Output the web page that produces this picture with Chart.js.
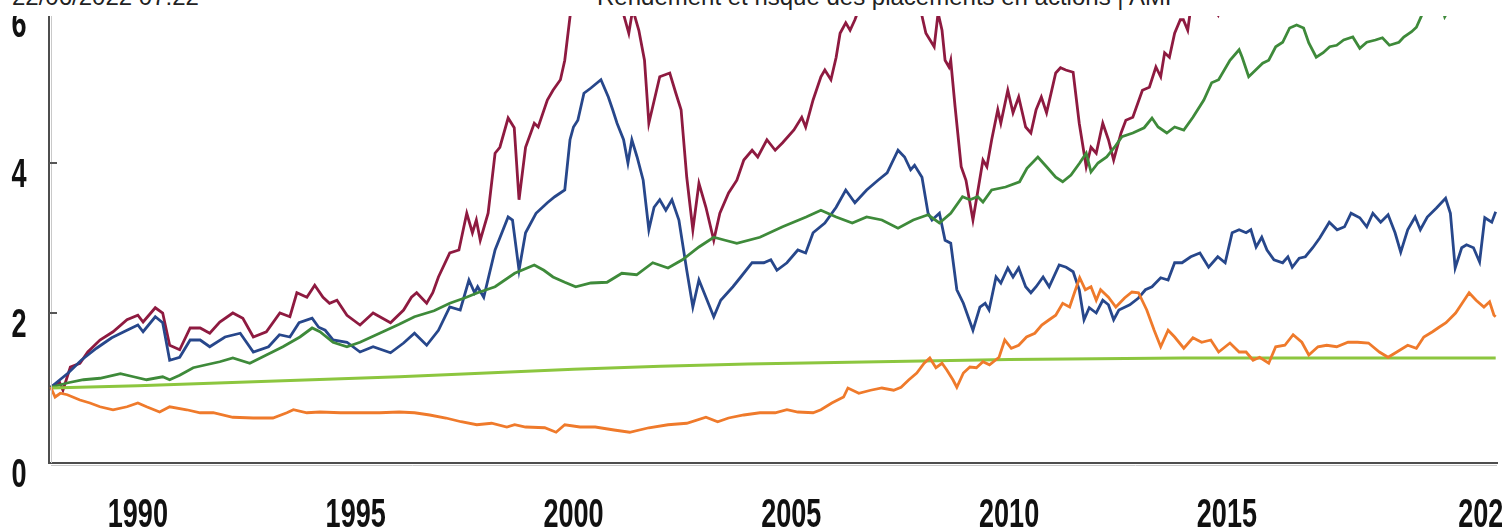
<!DOCTYPE html>
<html lang="fr">
<head>
<meta charset="utf-8">
<title>Rendement et risque des placements en actions | AMF</title>
<script src="https://cdn.jsdelivr.net/npm/chart.js@4.4.1/dist/chart.umd.min.js"></script>
<style>
  html, body { margin: 0; padding: 0; background: #fff; }
  body { width: 1502px; height: 529px; overflow: hidden; position: relative; }
  .header { position: absolute; top: -15px; font: 24px "Liberation Sans", Arial, sans-serif; line-height: 24px; color: #222; white-space: nowrap; }
  #date { left: 12px; }
  #titre { left: 597px; }
  #holder { position: absolute; left: 0; top: 16px; width: 1502px; height: 513px; }
</style>
</head>
<body>
<div class="header" id="date">22/06/2022 07:22</div>
<div class="header" id="titre">Rendement et risque des placements en actions | AMF</div>
<div id="holder"><canvas id="chart" width="1502" height="513"></canvas></div>
<script>
// [année, valeur] (base 1 en 1988)
const actionsDividendes = [
  [1988.00, 1.01], [1988.20, 1.08], [1988.28, 0.97], [1988.45, 1.28], [1988.67, 1.33], [1988.85, 1.48],
  [1989.13, 1.64], [1989.43, 1.75], [1989.75, 1.91], [1990.00, 1.97], [1990.12, 1.88], [1990.40, 2.07],
  [1990.57, 2.00], [1990.73, 1.57], [1990.96, 1.51], [1991.20, 1.80], [1991.43, 1.80], [1991.65, 1.73],
  [1991.88, 1.88], [1992.18, 2.00], [1992.41, 1.93], [1992.65, 1.68], [1992.95, 1.75], [1993.26, 2.00],
  [1993.49, 1.95], [1993.65, 2.27], [1993.88, 2.21], [1994.06, 2.37], [1994.25, 2.21], [1994.40, 2.13],
  [1994.57, 2.17], [1994.80, 1.97], [1995.10, 1.84], [1995.40, 2.00], [1995.80, 1.87], [1996.10, 2.04],
  [1996.28, 2.21], [1996.40, 2.27], [1996.63, 2.13], [1996.77, 2.27], [1996.90, 2.48], [1997.16, 2.80],
  [1997.37, 2.84], [1997.55, 3.33], [1997.68, 3.07], [1997.77, 3.24], [1997.86, 2.97], [1998.04, 3.33],
  [1998.20, 4.13], [1998.31, 4.21], [1998.50, 4.60], [1998.64, 4.47], [1998.75, 3.51], [1998.90, 4.21],
  [1999.10, 4.53], [1999.19, 4.48], [1999.40, 4.84], [1999.53, 4.97], [1999.70, 5.11], [1999.80, 5.37],
  [1999.92, 5.95], [2000.10, 6.60], [2000.35, 7.10], [2000.60, 7.30], [2000.85, 6.90], [2001.05, 6.30],
  [2001.16, 5.96], [2001.27, 5.73], [2001.36, 6.05], [2001.50, 5.77], [2001.63, 5.37], [2001.73, 4.53],
  [2001.98, 5.15], [2002.21, 5.20], [2002.35, 4.93], [2002.47, 4.71], [2002.60, 3.81], [2002.74, 3.11],
  [2002.88, 3.73], [2003.04, 3.41], [2003.22, 2.97], [2003.36, 3.33], [2003.56, 3.60], [2003.75, 3.77],
  [2003.91, 4.04], [2004.10, 4.17], [2004.23, 4.08], [2004.44, 4.31], [2004.63, 4.17], [2004.80, 4.27],
  [2005.06, 4.44], [2005.24, 4.61], [2005.33, 4.48], [2005.50, 4.84], [2005.68, 5.15], [2005.77, 5.24],
  [2005.91, 5.11], [2006.03, 5.41], [2006.12, 5.73], [2006.25, 5.87], [2006.35, 5.77], [2006.46, 5.91],
  [2006.55, 6.05], [2006.80, 6.40], [2007.10, 6.80], [2007.45, 7.00], [2007.75, 6.50], [2008.00, 5.96],
  [2008.09, 5.73], [2008.28, 5.55], [2008.37, 6.00], [2008.46, 5.77], [2008.53, 5.37], [2008.62, 5.28],
  [2008.66, 5.37], [2008.76, 4.75], [2008.90, 3.95], [2009.01, 3.77], [2009.17, 3.24], [2009.28, 3.62],
  [2009.40, 4.04], [2009.49, 3.95], [2009.60, 4.31], [2009.74, 4.71], [2009.81, 4.53], [2009.97, 4.97],
  [2010.09, 4.67], [2010.22, 4.88], [2010.38, 4.48], [2010.50, 4.40], [2010.62, 4.71], [2010.74, 4.88],
  [2010.86, 4.67], [2011.07, 5.20], [2011.18, 5.27], [2011.30, 5.24], [2011.47, 5.21], [2011.61, 4.53],
  [2011.77, 3.95], [2011.88, 4.21], [2012.00, 4.13], [2012.15, 4.53], [2012.28, 4.31], [2012.40, 4.04],
  [2012.57, 4.40], [2012.68, 4.57], [2012.84, 4.61], [2013.06, 4.97], [2013.22, 5.01], [2013.37, 5.28],
  [2013.48, 5.15], [2013.57, 5.47], [2013.68, 5.41], [2013.80, 5.73], [2013.93, 5.91], [2014.00, 5.91],
  [2014.10, 5.77], [2014.15, 5.98], [2014.50, 6.20], [2014.80, 5.97], [2015.20, 6.60], [2015.60, 6.90],
  [2016.10, 6.30], [2016.60, 6.90], [2017.20, 7.60], [2017.80, 8.00], [2018.30, 8.20], [2018.90, 7.60],
  [2019.50, 8.80], [2020.00, 9.30], [2020.25, 6.40], [2020.60, 8.40], [2021.17, 9.50]
];

const actions = [
  [1988.00, 1.01], [1988.40, 1.20], [1988.70, 1.37], [1989.05, 1.53], [1989.40, 1.67], [1989.75, 1.77],
  [1990.00, 1.84], [1990.12, 1.75], [1990.40, 1.95], [1990.57, 1.87], [1990.73, 1.37], [1990.96, 1.41],
  [1991.20, 1.64], [1991.43, 1.64], [1991.65, 1.55], [1992.00, 1.68], [1992.35, 1.73], [1992.65, 1.48],
  [1993.00, 1.55], [1993.25, 1.71], [1993.49, 1.68], [1993.70, 1.87], [1994.00, 1.93], [1994.15, 1.81],
  [1994.30, 1.77], [1994.48, 1.64], [1994.80, 1.61], [1995.10, 1.48], [1995.40, 1.55], [1995.80, 1.47],
  [1996.10, 1.60], [1996.35, 1.73], [1996.63, 1.57], [1996.90, 1.77], [1997.16, 2.08], [1997.40, 2.04],
  [1997.60, 2.44], [1997.73, 2.27], [1997.80, 2.35], [1997.94, 2.21], [1998.20, 2.84], [1998.50, 3.28],
  [1998.60, 3.24], [1998.75, 2.57], [1998.90, 3.07], [1999.14, 3.33], [1999.40, 3.47], [1999.57, 3.55],
  [1999.80, 3.64], [1999.92, 4.31], [2000.00, 4.48], [2000.10, 4.57], [2000.24, 4.93], [2000.40, 5.00],
  [2000.63, 5.11], [2000.80, 4.88], [2000.90, 4.71], [2001.00, 4.53], [2001.15, 4.31], [2001.25, 4.00],
  [2001.34, 4.31], [2001.46, 4.08], [2001.60, 3.77], [2001.73, 3.11], [2001.85, 3.41], [2001.98, 3.51],
  [2002.12, 3.37], [2002.26, 3.51], [2002.42, 3.24], [2002.60, 2.57], [2002.74, 2.08], [2002.88, 2.44],
  [2003.04, 2.21], [2003.22, 1.95], [2003.38, 2.17], [2003.66, 2.35], [2003.84, 2.48], [2004.10, 2.67],
  [2004.37, 2.67], [2004.53, 2.71], [2004.67, 2.57], [2004.90, 2.67], [2005.15, 2.84], [2005.33, 2.80],
  [2005.50, 3.07], [2005.77, 3.20], [2006.03, 3.41], [2006.25, 3.64], [2006.46, 3.47], [2006.73, 3.64],
  [2006.99, 3.77], [2007.20, 3.87], [2007.45, 4.17], [2007.60, 4.08], [2007.74, 3.91], [2007.83, 3.97],
  [2008.00, 3.81], [2008.14, 3.33], [2008.23, 3.24], [2008.40, 3.33], [2008.53, 2.97], [2008.66, 2.93],
  [2008.80, 2.31], [2008.95, 2.13], [2009.17, 1.77], [2009.33, 2.08], [2009.45, 2.13], [2009.54, 2.04],
  [2009.70, 2.48], [2009.81, 2.40], [2009.97, 2.60], [2010.09, 2.48], [2010.22, 2.60], [2010.38, 2.35],
  [2010.50, 2.27], [2010.62, 2.35], [2010.78, 2.48], [2010.92, 2.35], [2011.15, 2.64], [2011.31, 2.61],
  [2011.47, 2.55], [2011.61, 2.31], [2011.72, 1.91], [2011.84, 2.07], [2012.00, 2.00], [2012.15, 2.17],
  [2012.28, 2.11], [2012.40, 1.91], [2012.52, 2.04], [2012.77, 2.11], [2012.97, 2.20], [2013.13, 2.31],
  [2013.28, 2.35], [2013.48, 2.47], [2013.65, 2.44], [2013.80, 2.67], [2013.97, 2.67], [2014.17, 2.75],
  [2014.38, 2.80], [2014.58, 2.61], [2014.79, 2.75], [2014.96, 2.67], [2015.12, 3.07], [2015.28, 3.11],
  [2015.44, 3.07], [2015.55, 3.11], [2015.67, 2.88], [2015.80, 3.01], [2015.92, 2.84], [2016.08, 2.71],
  [2016.28, 2.67], [2016.40, 2.75], [2016.50, 2.61], [2016.66, 2.73], [2016.80, 2.75], [2016.97, 2.87],
  [2017.13, 3.00], [2017.35, 3.21], [2017.53, 3.11], [2017.70, 3.15], [2017.85, 3.33], [2018.05, 3.27],
  [2018.21, 3.15], [2018.35, 3.33], [2018.53, 3.21], [2018.70, 3.31], [2018.86, 3.07], [2018.99, 2.81],
  [2019.15, 3.11], [2019.32, 3.28], [2019.44, 3.11], [2019.60, 3.28], [2019.81, 3.40], [2020.02, 3.53],
  [2020.13, 3.33], [2020.24, 2.60], [2020.39, 2.87], [2020.50, 2.91], [2020.66, 2.87], [2020.80, 2.68],
  [2020.92, 3.27], [2021.08, 3.21], [2021.17, 3.35]
];

const obligations = [
  [1988.00, 1.01], [1988.40, 1.07], [1988.75, 1.11], [1989.13, 1.13], [1989.60, 1.19], [1989.90, 1.15],
  [1990.20, 1.11], [1990.57, 1.15], [1990.73, 1.11], [1990.96, 1.17], [1991.27, 1.27], [1991.57, 1.31],
  [1991.88, 1.35], [1992.18, 1.40], [1992.57, 1.33], [1992.95, 1.44], [1993.33, 1.55], [1993.72, 1.68],
  [1994.00, 1.80], [1994.18, 1.75], [1994.48, 1.61], [1994.80, 1.55], [1995.10, 1.61], [1995.55, 1.73],
  [1996.00, 1.85], [1996.35, 1.95], [1996.80, 2.03], [1997.16, 2.13], [1997.50, 2.20], [1997.80, 2.27],
  [1998.20, 2.35], [1998.65, 2.53], [1999.10, 2.64], [1999.32, 2.57], [1999.53, 2.48], [1999.80, 2.41],
  [2000.05, 2.35], [2000.40, 2.40], [2000.77, 2.41], [2001.11, 2.53], [2001.45, 2.51], [2001.82, 2.67],
  [2002.17, 2.60], [2002.50, 2.71], [2002.88, 2.88], [2003.22, 3.01], [2003.48, 2.97], [2003.75, 2.93],
  [2004.28, 3.01], [2004.80, 3.15], [2005.34, 3.28], [2005.68, 3.37], [2006.03, 3.28], [2006.40, 3.20],
  [2006.73, 3.28], [2007.08, 3.24], [2007.45, 3.13], [2007.80, 3.24], [2008.14, 3.31], [2008.40, 3.20],
  [2008.66, 3.33], [2008.93, 3.55], [2009.10, 3.51], [2009.28, 3.55], [2009.40, 3.48], [2009.60, 3.64],
  [2009.92, 3.68], [2010.24, 3.75], [2010.41, 3.93], [2010.66, 4.08], [2010.86, 3.95], [2011.07, 3.81],
  [2011.23, 3.75], [2011.42, 3.84], [2011.62, 4.00], [2011.77, 4.13], [2011.88, 3.88], [2012.04, 4.00],
  [2012.24, 4.08], [2012.42, 4.21], [2012.59, 4.35], [2012.84, 4.40], [2013.10, 4.47], [2013.28, 4.60],
  [2013.42, 4.48], [2013.62, 4.40], [2013.80, 4.48], [2014.01, 4.44], [2014.22, 4.61], [2014.47, 4.84],
  [2014.65, 5.07], [2014.81, 5.11], [2015.07, 5.37], [2015.28, 5.51], [2015.35, 5.41], [2015.50, 5.15],
  [2015.66, 5.24], [2015.82, 5.33], [2015.96, 5.37], [2016.12, 5.55], [2016.28, 5.61], [2016.44, 5.80],
  [2016.60, 5.84], [2016.76, 5.80], [2016.88, 5.60], [2017.05, 5.41], [2017.21, 5.47], [2017.36, 5.55],
  [2017.52, 5.57], [2017.68, 5.64], [2017.89, 5.68], [2018.05, 5.53], [2018.21, 5.61], [2018.41, 5.64],
  [2018.57, 5.67], [2018.73, 5.57], [2018.95, 5.61], [2019.06, 5.68], [2019.24, 5.75], [2019.35, 5.81],
  [2019.48, 5.98], [2019.70, 6.10], [2019.90, 6.15], [2020.00, 5.95], [2020.15, 6.10], [2020.50, 6.25],
  [2020.90, 6.30], [2021.17, 6.25]
];

const monetaire = [
  [1988.00, 1.00], [1990.00, 1.03], [1992.00, 1.07], [1994.00, 1.11], [1996.00, 1.15], [1998.00, 1.20],
  [2000.00, 1.25], [2002.00, 1.29], [2004.00, 1.32], [2006.00, 1.34], [2008.00, 1.36], [2010.00, 1.38],
  [2012.00, 1.39], [2014.00, 1.40], [2017.00, 1.40], [2021.17, 1.40]
];

const or = [
  [1988.00, 1.01], [1988.10, 0.88], [1988.22, 0.93], [1988.38, 0.91], [1988.67, 0.84], [1988.90, 0.80],
  [1989.13, 0.75], [1989.43, 0.71], [1989.75, 0.75], [1990.00, 0.80], [1990.20, 0.75], [1990.50, 0.68],
  [1990.73, 0.75], [1991.12, 0.71], [1991.43, 0.67], [1991.73, 0.67], [1992.18, 0.61], [1992.65, 0.60],
  [1993.10, 0.60], [1993.42, 0.67], [1993.57, 0.71], [1993.88, 0.67], [1994.18, 0.68], [1994.65, 0.67],
  [1995.10, 0.67], [1995.55, 0.67], [1996.00, 0.68], [1996.35, 0.67], [1996.70, 0.64], [1997.07, 0.60],
  [1997.42, 0.55], [1997.78, 0.51], [1998.12, 0.53], [1998.47, 0.48], [1998.65, 0.51], [1998.90, 0.48],
  [1999.34, 0.47], [1999.60, 0.41], [1999.80, 0.51], [2000.15, 0.48], [2000.50, 0.48], [2000.93, 0.44],
  [2001.29, 0.41], [2001.73, 0.47], [2002.17, 0.51], [2002.60, 0.53], [2003.04, 0.61], [2003.31, 0.55],
  [2003.56, 0.60], [2003.91, 0.64], [2004.28, 0.67], [2004.63, 0.67], [2004.90, 0.71], [2005.15, 0.68],
  [2005.50, 0.67], [2005.68, 0.71], [2005.93, 0.80], [2006.20, 0.88], [2006.30, 1.00], [2006.55, 0.93],
  [2006.82, 0.97], [2007.08, 1.00], [2007.35, 0.97], [2007.52, 1.01], [2007.70, 1.11], [2007.88, 1.20],
  [2008.05, 1.33], [2008.18, 1.40], [2008.32, 1.27], [2008.46, 1.33], [2008.57, 1.24], [2008.71, 1.11],
  [2008.80, 1.01], [2008.95, 1.20], [2009.10, 1.28], [2009.25, 1.27], [2009.40, 1.35], [2009.55, 1.31],
  [2009.77, 1.41], [2009.90, 1.64], [2010.05, 1.53], [2010.22, 1.57], [2010.40, 1.68], [2010.59, 1.73],
  [2010.75, 1.84], [2010.92, 1.91], [2011.07, 1.97], [2011.23, 2.13], [2011.39, 2.08], [2011.50, 2.27],
  [2011.62, 2.47], [2011.75, 2.31], [2011.88, 2.35], [2012.00, 2.17], [2012.10, 2.31], [2012.28, 2.21],
  [2012.45, 2.08], [2012.65, 2.20], [2012.82, 2.28], [2012.97, 2.27], [2013.16, 2.04], [2013.33, 1.77],
  [2013.48, 1.55], [2013.65, 1.77], [2013.80, 1.68], [2014.01, 1.53], [2014.22, 1.67], [2014.42, 1.61],
  [2014.63, 1.64], [2014.81, 1.48], [2015.07, 1.60], [2015.28, 1.48], [2015.44, 1.48], [2015.60, 1.37],
  [2015.75, 1.41], [2015.96, 1.33], [2016.12, 1.55], [2016.33, 1.57], [2016.52, 1.71], [2016.72, 1.61],
  [2016.88, 1.44], [2017.09, 1.55], [2017.29, 1.57], [2017.52, 1.55], [2017.78, 1.61], [2018.00, 1.61],
  [2018.25, 1.60], [2018.50, 1.48], [2018.70, 1.41], [2018.90, 1.48], [2019.15, 1.57], [2019.35, 1.53],
  [2019.52, 1.68], [2019.72, 1.75], [2019.87, 1.81], [2020.03, 1.87], [2020.25, 2.00], [2020.40, 2.13],
  [2020.56, 2.27], [2020.72, 2.17], [2020.90, 2.08], [2021.03, 2.15], [2021.13, 1.97], [2021.17, 1.95]
];

const xTickValues = [1990, 1995, 2000, 2005, 2010, 2015, 2021];
const xTickLabels = ['1990', '1995', '2000', '2005', '2010', '2015', '2021'];
const yTickValues = [0, 2, 4, 6];
const yTickLabels = ['0', '2', '4', '6'];

const toPoints = (serie) => serie.map((p) => ({ x: p[0], y: p[1] }));

const makeDataset = (label, serie, color) => ({
  label: label,
  data: toPoints(serie),
  borderColor: color,
  borderWidth: 2.8,
  pointRadius: 0,
  tension: 0,
  fill: false,
});

// libellés des axes dessinés à la main : police étroite comme sur l'original
const axisLabels = {
  id: 'axisLabels',
  afterDraw(chart) {
    const ctx = chart.ctx;
    const area = chart.chartArea;
    const xs = chart.scales.x;
    const ys = chart.scales.y;
    ctx.save();
    // ombre grise des axes
    ctx.strokeStyle = '#c9c9c9';
    ctx.lineWidth = 1;
    ctx.beginPath();
    ctx.moveTo(area.left + 2, area.bottom + 2.5);
    ctx.lineTo(area.right, area.bottom + 2.5);
    ctx.moveTo(area.left + 2.5, area.top);
    ctx.lineTo(area.left + 2.5, area.bottom);
    ctx.stroke();
    // petits traits de graduation vers l'intérieur
    ctx.strokeStyle = '#555';
    ctx.lineWidth = 2;
    ctx.beginPath();
    yTickValues.forEach((v) => {
      if (v === 0) return;
      const py = Math.round(ys.getPixelForValue(v));
      ctx.moveTo(area.left, py);
      ctx.lineTo(area.left + 8, py);
    });
    ctx.stroke();

    const sx = 0.66;
    ctx.fillStyle = '#111';
    ctx.font = 'bold 41px "Liberation Sans", Arial, sans-serif';
    ctx.textAlign = 'center';
    ctx.textBaseline = 'alphabetic';
    ctx.scale(sx, 1);
    xTickValues.forEach((v, i) => {
      ctx.fillText(xTickLabels[i], xs.getPixelForValue(v) / sx, area.bottom + 64);
    });
    yTickValues.forEach((v, i) => {
      ctx.fillText(yTickLabels[i], 19 / sx, ys.getPixelForValue(v) + 24);
    });
    ctx.restore();
  },
};

const chart = new Chart(document.getElementById('chart'), {
  type: 'line',
  data: {
    datasets: [
      makeDataset('Or', or, '#ef7a2b'),
      makeDataset('Placement monétaire', monetaire, '#8cc63f'),
      makeDataset('Obligations', obligations, '#3e8a3a'),
      makeDataset('Actions', actions, '#27478b'),
      makeDataset('Actions dividendes réinvestis', actionsDividendes, '#8e1a40'),
    ],
  },
  options: {
    responsive: false,
    animation: false,
    events: [],
    layout: { padding: { left: 49, right: 5, top: 0, bottom: 66 } },
    plugins: {
      legend: { display: false },
      tooltip: { enabled: false },
      title: { display: false },
    },
    scales: {
      x: {
        type: 'linear',
        min: 1987.96,
        max: 2021.2,
        ticks: { display: false },
        grid: { display: false, drawTicks: false },
        border: { display: true, color: '#4d4d4d', width: 2 },
      },
      y: {
        type: 'linear',
        min: 0,
        max: 5.96,
        ticks: { display: false },
        grid: { display: false, drawTicks: false },
        border: { display: true, color: '#4d4d4d', width: 2 },
      },
    },
  },
  plugins: [axisLabels],
});
</script>
</body>
</html>
